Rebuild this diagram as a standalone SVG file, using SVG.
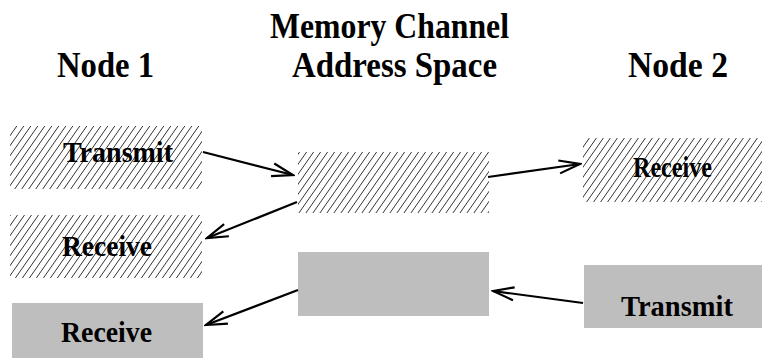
<svg xmlns="http://www.w3.org/2000/svg" width="764" height="360" viewBox="0 0 764 360">
<style>
text{font-family:"Liberation Serif","Times New Roman",serif;font-weight:bold;fill:#000}
.title{font-size:35px}
.lbl{font-size:29px}
.gray{fill:#bebebe}
.conn{stroke:#000;stroke-width:2.2;fill:none}
</style>
<defs>
<pattern id="hatch" patternUnits="userSpaceOnUse" width="7" height="10">
<path d="M-1.4,2 L1.4,-2 M0,10 L7,0 M5.6,12 L8.4,8" stroke="#000" stroke-width="0.8"/>
</pattern>
<marker id="arr" markerUnits="userSpaceOnUse" viewBox="-24 -9 26 18" markerWidth="26" markerHeight="18" refX="0" refY="0" orient="auto">
<path d="M-21,-6.5 L0,0 L-21,6.5" stroke="#000" stroke-width="2.2" fill="none"/>
</marker>
</defs>
<rect width="764" height="360" fill="#fff"/>
<g id="titles">
<text class="title" x="57" y="77" textLength="97" lengthAdjust="spacingAndGlyphs">Node 1</text>
<text class="title" x="270" y="38" textLength="239" lengthAdjust="spacingAndGlyphs">Memory Channel</text>
<text class="title" x="292" y="77" textLength="205" lengthAdjust="spacingAndGlyphs">Address Space</text>
<text class="title" x="628" y="77" textLength="100" lengthAdjust="spacingAndGlyphs">Node 2</text>
</g>
<g id="n1-transmit">
<rect x="10" y="126" width="192" height="63" fill="url(#hatch)"/>
<text class="lbl" x="63" y="162" textLength="110" lengthAdjust="spacingAndGlyphs">Transmit</text>
</g>
<g id="n1-receive-hatched">
<rect x="10" y="215" width="192" height="63" fill="url(#hatch)"/>
<text class="lbl" x="62" y="256" textLength="90" lengthAdjust="spacingAndGlyphs">Receive</text>
</g>
<g id="n1-receive-gray">
<rect class="gray" x="12" y="303" width="191" height="55"/>
<text class="lbl" x="61" y="342" textLength="91" lengthAdjust="spacingAndGlyphs">Receive</text>
</g>
<g id="mc-hatched">
<rect x="298" y="152" width="191" height="61" fill="url(#hatch)"/>
</g>
<g id="mc-gray">
<rect class="gray" x="298" y="252" width="191" height="64"/>
</g>
<g id="n2-receive">
<rect x="583" y="138" width="179" height="64" fill="url(#hatch)"/>
<text class="lbl" x="633" y="177" textLength="79" lengthAdjust="spacingAndGlyphs">Receive</text>
</g>
<g id="n2-transmit">
<rect class="gray" x="584" y="265" width="178" height="63"/>
<text class="lbl" x="621" y="316" textLength="112" lengthAdjust="spacingAndGlyphs">Transmit</text>
</g>
<g id="connectors">
<line class="conn" x1="203" y1="152" x2="293" y2="175" marker-end="url(#arr)"/>
<line class="conn" x1="297" y1="202" x2="207" y2="238" marker-end="url(#arr)"/>
<line class="conn" x1="298" y1="290" x2="206" y2="325" marker-end="url(#arr)"/>
<line class="conn" x1="488" y1="177" x2="580" y2="164" marker-end="url(#arr)"/>
<line class="conn" x1="583" y1="303" x2="493" y2="291" marker-end="url(#arr)"/>
</g>
</svg>
